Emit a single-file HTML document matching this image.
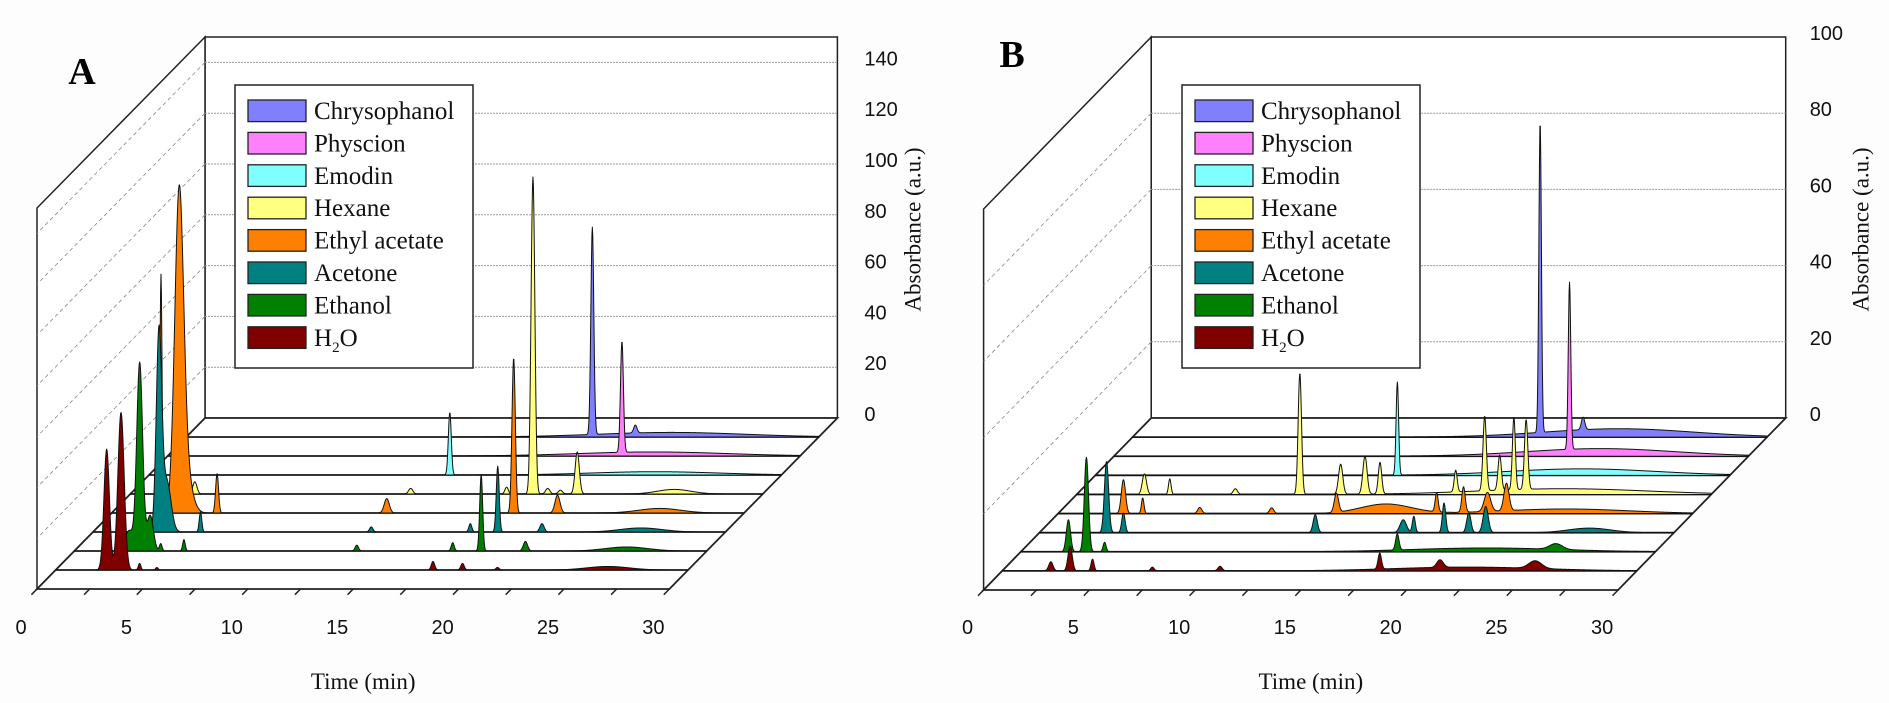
<!DOCTYPE html>
<html><head><meta charset="utf-8"><style>
html,body{margin:0;padding:0;background:#fff;}
svg{display:block;}
</style></head><body>
<svg id="fig" width="1889" height="703" viewBox="0 0 1889 703" xmlns="http://www.w3.org/2000/svg">
<rect x="0" y="0" width="1889" height="703" fill="#fdfdfd"/>
</svg>
<script>
// ---------- data (peak lists: [retention time (min), height (a.u.), width (min)]) ----------
const seriesNames = ["H2O","Ethanol","Acetone","Ethyl acetate","Hexane","Emodin","Physcion","Chrysophanol"];
const seriesColors = ["#800000","#008000","#008080","#FF8000","#FFFF80","#80FFFF","#FF80FF","#8080FF"];
const timeTicks = [0,5,10,15,20,25,30];
const ticksA = [0,20,40,60,80,100,120,140];
const ticksB = [0,20,40,60,80,100];

const peaksA_H2O = [[2.42,47.6,0.13],[3.10,62,0.15],[3.98,2.6,0.06],[4.8,1,0.06],[17.9,3.4,0.08],[19.3,2.6,0.08],[20.96,1,0.08],[26.2,1.4,1.0]];
const peaksA_Ethanol = [[3.1,74,0.14],[3.6,14,0.15],[2.6,8,0.2],[4.1,2.9,0.06],[5.2,4.5,0.06],[13.4,2.3,0.08],[17.95,3.3,0.07],[19.3,30,0.07],[21.4,3.8,0.1],[26.2,1.6,1.0]];
const peaksA_Acetone = [[3.13,77.8,0.13],[3.5,20,0.2],[5.1,7.9,0.06],[13.2,2,0.08],[17.9,3.3,0.07],[19.2,25.9,0.07],[21.3,3.3,0.1],[26,1.6,1.0]];
const peaksA_EthylAcetate = [[3.2,120,0.21],[3.5,15,0.3],[2.34,94,0.05],[5.0,15.5,0.07],[13.05,5.7,0.12],[19.07,61,0.08],[21.15,7,0.12],[26,1.8,1.0]];
const peaksA_Hexane = [[3.06,4.8,0.1],[13.3,2.2,0.1],[17.85,2.7,0.08],[19.1,124.8,0.09],[19.8,2.2,0.1],[20.4,1.5,0.1],[21.2,16.6,0.1],[25.8,1.8,0.8]];
const peaksA_Emodin = [[14.27,24.6,0.07],[24,1.3,3]];
const peaksA_Physcion = [[21.55,43.7,0.07],[23,1.6,3.5]];
const peaksA_Chrysophanol = [[19.26,81.6,0.07],[21.3,3.1,0.08],[23,1.8,3.5]];

const peaksB_H2O = [[2.3,2.4,0.1],[3.21,6.6,0.1],[4.27,3.1,0.07],[7.1,1,0.08],[10.3,1.2,0.1],[17.85,4.2,0.08],[20.7,2,0.15],[25.2,2,0.3],[22,1,3.5]];
const peaksB_Ethanol = [[2.25,8.4,0.1],[3.1,24.8,0.1],[3.96,2.5,0.07],[17.8,4.2,0.08],[22,1,3.5],[25.3,1.5,0.3]];
const peaksB_Acetone = [[3.17,18.7,0.1],[3.97,5.2,0.08],[13.04,4.7,0.1],[17.2,3.4,0.15],[17.7,4.3,0.07],[19.13,7.8,0.08],[20.3,5.2,0.1],[21.1,6.9,0.12],[26,1.2,1]];
const peaksB_EthylAcetate = [[3.09,8.9,0.1],[4.0,4.1,0.06],[6.7,1.6,0.1],[10.1,1.5,0.1],[13.16,5,0.1],[15.5,2.5,1.2],[17.9,5,0.07],[19.17,6.7,0.08],[20.3,5,0.15],[21.2,7.2,0.12],[24,1.2,3]];
const peaksB_Hexane = [[3.2,5.4,0.1],[4.4,4.1,0.06],[7.5,1.5,0.1],[10.55,31.8,0.08],[12.48,7.9,0.1],[13.63,10,0.1],[14.34,8.3,0.08],[17.92,5.7,0.07],[19.29,19.6,0.08],[20.0,9.2,0.08],[20.67,19,0.07],[21.25,18.3,0.08],[23,1.5,4]];
const peaksB_Emodin = [[14.28,24.4,0.06],[23,1.7,3.5]];
const peaksB_Physcion = [[21.54,43.8,0.06],[23,2,3.5]];
const peaksB_Chrysophanol = [[19.27,81.5,0.06],[21.3,3.3,0.08],[23,2.2,3.5]];

const seriesA = [peaksA_H2O,peaksA_Ethanol,peaksA_Acetone,peaksA_EthylAcetate,peaksA_Hexane,peaksA_Emodin,peaksA_Physcion,peaksA_Chrysophanol];
const seriesB = [peaksB_H2O,peaksB_Ethanol,peaksB_Acetone,peaksB_EthylAcetate,peaksB_Hexane,peaksB_Emodin,peaksB_Physcion,peaksB_Chrysophanol];

// ---------- rendering ----------
const NS = "http://www.w3.org/2000/svg";
const svg = document.getElementById("fig");
function mk(tag, attrs, parent){
  const e = document.createElementNS(NS, tag);
  for (const k in attrs) e.setAttribute(k, attrs[k]);
  (parent||svg).appendChild(e);
  return e;
}

function panel(id, G, series, ticks, ymax, letter){
  const g = mk("g", {});
  
  
  const ppu = G.H / ymax;
  const backL = G.ox + G.dx, backR = G.ox + G.dx + 30*G.wpm;
  const backB = G.oy + G.dy, backT = backB - G.H;
  const frontR = G.ox + 30*G.wpm;
  const wall = mk("rect", {x:backL, y:backT, width:backR-backL, height:G.H, fill:"#fff", stroke:"#222", "stroke-width":1.5}, g);
  
  
  const lw = mk("polygon", {points:`${backL},${backT} ${G.ox},${backT-G.dy} ${G.ox},${G.oy} ${backL},${backB}`, fill:"#fff", stroke:"#222", "stroke-width":1.5}, g);
  
  
  const fl = mk("polygon", {points:`${backL},${backB} ${backR},${backB} ${frontR},${G.oy} ${G.ox},${G.oy}`, fill:"#fff", stroke:"#222", "stroke-width":1.8}, g);
  
  
  ticks.forEach(v => {
    const gy = backB - v*ppu;
    if (v > 0 && v < ymax) {
      const gl = mk("line", {x1:backL, y1:gy, x2:backR, y2:gy, stroke:"#999", "stroke-width":1, "stroke-dasharray":"2,1"}, g);
      
      
      const dl = mk("line", {x1:backL, y1:gy, x2:G.ox, y2:gy-G.dy, stroke:"#888", "stroke-width":0.8, "stroke-dasharray":"4,3"}, g);
      
      
    }
    const t = mk("text", {x:backR+G.lab, y:gy+3, "font-family":"Liberation Sans, sans-serif", "font-size":20, fill:"#111"}, g);
    t.textContent = v;
    
    
  });
  const yt = mk("text", {x:0, y:0, transform:`translate(${backR+G.tit},229.5) rotate(-90)`, "text-anchor":"middle", "font-family":"Liberation Serif, serif", "font-size":23, fill:"#111"}, g);
  yt.textContent = "Absorbance (a.u.)";
  
  
  const dl = Math.hypot(G.dx, G.dy);
  for (let t = 0; t <= 30.001; t += 2.5) {
    const x = G.ox + t*G.wpm;
    const tk = mk("line", {x1:x, y1:G.oy, x2:x - G.dx/dl*8, y2:G.oy - G.dy/dl*8, stroke:"#222", "stroke-width":1.5}, g);
    
    
  }
  timeTicks.forEach(t => {
    const tl = mk("text", {x:G.ox + t*G.wpm - 16, y:634, "text-anchor":"middle", "font-family":"Liberation Sans, sans-serif", "font-size":20, fill:"#111"}, g);
    tl.textContent = t;
    
    
  });
  const xt = mk("text", {x:G.ox + 15*G.wpm + 10, y:689, "text-anchor":"middle", "font-family":"Liberation Serif, serif", "font-size":23, fill:"#111"}, g);
  xt.textContent = "Time (min)";
  
  
  for (let i = 7; i >= 0; i--) {
    const k = i + 1;
    const x0 = G.ox + G.dx*k/9, y0 = G.oy + G.dy*k/9;
    const rl = mk("line", {x1:x0, y1:y0, x2:x0+30*G.wpm, y2:y0, stroke:"#222", "stroke-width":1.8}, g);
    
    
    const peaks = series[i];
    let d = `M${x0.toFixed(2)},${y0.toFixed(2)}`;
    for (let t = 0; t <= 30.0001; t += 0.02) {
      let v = 0;
      peaks.forEach(p => { v += p[1]*Math.exp(-0.5*Math.pow((t-p[0])/p[2],2)); });
      d += ` L${(x0+t*G.wpm).toFixed(2)},${(y0 - v*ppu).toFixed(2)}`;
    }
    d += ` L${(x0+30*G.wpm).toFixed(2)},${y0.toFixed(2)} Z`;
    const pa = mk("path", {d:d, fill:seriesColors[i], stroke:"#111", "stroke-width":1, "stroke-linejoin":"round"}, g);
    
    
  }
  const lg = mk("g", {}, g);
  
  
  mk("rect", {x:G.lx, y:85, width:238, height:283, fill:"#fff", stroke:"#222", "stroke-width":1.5}, lg);
  for (let j = 0; j < 8; j++) {
    const i = 7 - j;
    const ey = 100 + 32.4*j;
    const sw = mk("rect", {x:G.lx+13, y:ey, width:58, height:21.6, fill:seriesColors[i], stroke:"#222", "stroke-width":1.3}, lg);
    
    
    const tx = mk("text", {x:G.lx+79, y:ey+19, "font-family":"Liberation Serif, serif", "font-size":25, fill:"#111"}, lg);
    
    
    if (seriesNames[i] === "H2O") {
      tx.appendChild(document.createTextNode("H"));
      const sub = document.createElementNS(NS, "tspan");
      sub.setAttribute("font-size", "15"); sub.setAttribute("dy", "6");
      sub.textContent = "2";
      tx.appendChild(sub);
      const o = document.createElementNS(NS, "tspan");
      o.setAttribute("dy", "-6");
      o.textContent = "O";
      tx.appendChild(o);
    } else tx.textContent = seriesNames[i];
  }
  const L = mk("text", {x:G.letX, y:G.letY, "text-anchor":"middle", "font-family":"Liberation Serif, serif", "font-weight":"bold", "font-size":38, fill:"#000"}, g);
  L.textContent = letter;
  
  
}

panel("a", {ox:37, oy:589, wpm:21.08, dx:168, dy:-171, H:381, lab:27, tit:83, lx:235, letX:82, letY:84}, seriesA, ticksA, 150, "A");
panel("b", {ox:983.6, oy:590, wpm:21.15, dx:167.6, dy:-172, H:381, lab:24, tit:83, lx:1182, letX:1012, letY:67}, seriesB, ticksB, 100, "B");
</script>
</body></html>
